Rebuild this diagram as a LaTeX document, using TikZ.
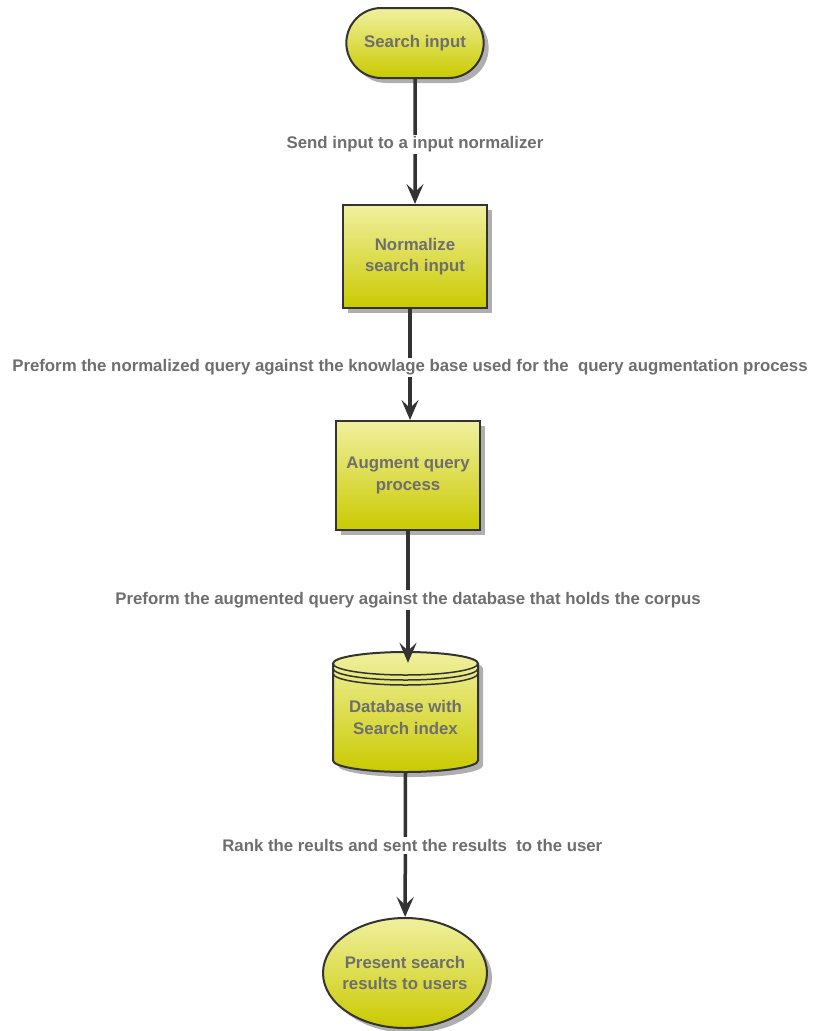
\documentclass[tikz,border=0pt]{standalone}
\usepackage{fontspec}
\setmainfont{Liberation Sans}
\usetikzlibrary{arrows.meta, shapes.misc, shapes.geometric, shadows}

\definecolor{boxtop}{RGB}{240,240,160}
\definecolor{boxbot}{RGB}{202,202,0}
\definecolor{edgecol}{RGB}{51,51,51}
\definecolor{textcol}{RGB}{110,110,110}
\definecolor{shadowcol}{RGB}{175,175,175}

\begin{document}
\begin{tikzpicture}[
    x=1pt, y=1pt,
    font=\fontsize{16.8}{21.5}\selectfont\bfseries,
    every node/.append style={text=textcol, align=center},
    flowbox/.style={draw=edgecol, line width=2pt, top color=boxtop, bottom color=boxbot,
      drop shadow={shadow xshift=5pt, shadow yshift=-5pt, fill=shadowcol, opacity=1}},
    link/.style={draw=edgecol, line width=3.5pt, -{Stealth[length=20pt, width=17pt, inset=8pt]}},
    lbl/.style={fill=white, inner sep=2pt, yshift=-3pt},
  ]
  \useasboundingbox (0,0) rectangle (812,-1031);

  % Flow steps
  \node [flowbox, rounded rectangle, minimum width=144pt, minimum height=70pt] (start) at (415,-43) {Search input};
  \node [flowbox, rectangle, minimum width=144pt, minimum height=103pt] (norm) at (415,-256.5) {Normalize\\search input};
  \node [flowbox, rectangle, minimum width=144pt, minimum height=109pt] (aug) at (408,-475.5) {Augment query\\process};

  % Database drum
  \fill [shadowcol] (338,-668.5) -- (338,-765.5)
    arc [start angle=180, end angle=360, x radius=72.5, y radius=11.5] -- (483,-668.5)
    arc [start angle=0, end angle=180, x radius=72.5, y radius=11.5] -- cycle;
  \path [draw=edgecol, line width=2pt, top color=boxtop, bottom color=boxbot] (333,-663.5) -- (333,-760.5)
    arc [start angle=180, end angle=360, x radius=72.5, y radius=11.5] -- (478,-663.5)
    arc [start angle=0, end angle=180, x radius=72.5, y radius=11.5] -- cycle;
  \foreach \d in {0, 5, 10}{%
    \draw [edgecol, line width=1.5pt] (333,-663.5-\d) arc [start angle=180, end angle=360, x radius=72.5, y radius=11.5];
  };
  \node [minimum width=145pt, minimum height=109pt] (db) at (405.5,-717.5) {Database with\\Search index};

  \node [flowbox, ellipse, inner xsep=-14pt, inner ysep=0pt, minimum width=164pt, minimum height=110pt] (end) at (405,-973) {Present search\\results to users};

  % Connect the steps
  \draw [link] (start) -- node [lbl] {Send input to a input normalizer} (norm);
  \draw [link] ([xshift=-5pt]norm.south) -- node [lbl] {Preform the normalized query against the knowlage base used for the~ query augmentation process} ([xshift=2pt]aug.north);
  \draw [link] (aug.south) -- node [lbl] {Preform the augmented query against the database that holds the corpus} ([xshift=2.5pt]db.north);
  \draw [link] (db.south) -- node [lbl, xshift=7pt, yshift=2pt] {Rank the reults and sent the results~ to the user} (end);
\end{tikzpicture}
\end{document}
